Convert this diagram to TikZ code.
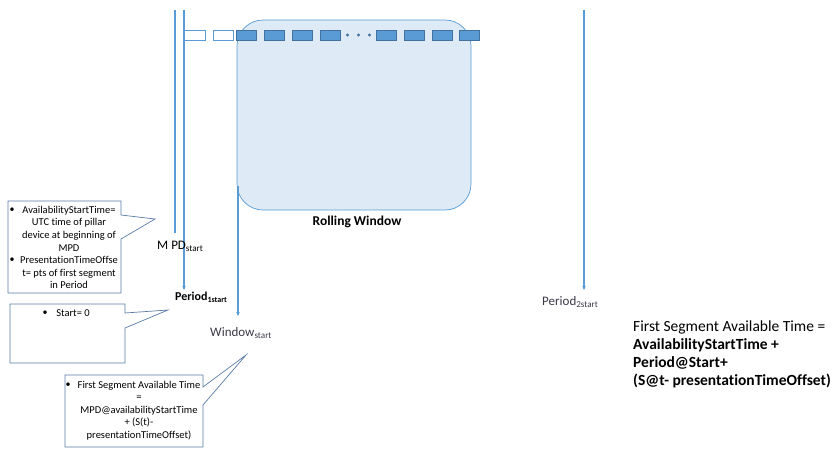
\documentclass[tikz,border=0pt]{standalone}
\usepackage{fontspec}
\setmainfont[Ligatures=CommonOff]{Carlito}
\usetikzlibrary{arrows.meta}
\definecolor{lineblue}{HTML}{5B9BD5}
\definecolor{segdark}{HTML}{41719C}
\definecolor{winfill}{HTML}{DEEAF6}
\definecolor{callborder}{HTML}{5A7CA6}
\definecolor{labelgray}{HTML}{3A3A4A}
\tikzset{
  timeline/.style={draw=lineblue, line width=1.3pt},
  timearrow/.style={timeline, -{Stealth[length=4pt,width=3.5pt]}},
  seghollow/.style={draw=lineblue, fill=white, line width=0.8pt},
  segfull/.style={draw=segdark, fill=lineblue, line width=0.8pt},
  callout/.style={draw=callborder, fill=white, line width=0.7pt, line join=miter},
  calltext/.style={font=\fontsize{10.5}{12.6}\selectfont, align=center, inner sep=0pt},
  bulletmark/.style={font=\fontsize{10}{12.5}\selectfont, inner sep=0pt},
  lbl/.style={inner sep=0pt, anchor=west}
}
\begin{document}
\begin{tikzpicture}[x=1pt,y=-1pt]
\useasboundingbox (0,0) rectangle (834,449);
% rolling window
\draw[draw=lineblue, fill=winfill, line width=0.7pt, rounded corners=26pt] (237,20) rectangle (471,210);
\node[font=\bfseries\fontsize{13.5}{15}\selectfont, inner sep=0pt] (rw) at (357,222) {Rolling Window};
% vertical timelines
\coordinate (mpdtop) at (175,10);
\coordinate (mpdbot) at (175,233);
\draw[timeline] (mpdtop) -- (mpdbot);
\coordinate (p1top) at (184,10);
\coordinate (p1bot) at (184,290);
\draw[timearrow] (p1top) -- (p1bot);
\coordinate (p2top) at (584,10);
\coordinate (p2bot) at (584,290);
\draw[timearrow] (p2top) -- (p2bot);
\coordinate (wtop) at (238,186);
\coordinate (wbot) at (238,316);
\draw[timearrow] (wtop) -- (wbot);
% segments
\node[seghollow, minimum width=21pt, minimum height=10pt, inner sep=0pt] (s1) at (194.5,35) {};
\node[seghollow, minimum width=20pt, minimum height=10pt, inner sep=0pt] (s2) at (223,35) {};
\foreach \x/\n in {246.5/a,274/b,302/c,330/d,386.5/e,414/f,442/g,469.5/h}{
  \node[segfull, minimum width=20pt, minimum height=10pt, inner sep=0pt] (seg\n) at (\x,35) {};
}
\foreach \x/\n in {347.5/1,358.5/2,369.5/3}{
  \fill[segdark] (\x,35) circle (1.6pt);
}
% callout 1
\draw[callout] (8,201) -- (121,201) -- (121,215) -- (155,219) -- (121,239) -- (121,293) -- (8,293) -- cycle;
\node[bulletmark] (b1) at (12,210) {•};
\node[calltext] (c1a) at (69,228.5) {AvailabilityStartTime=\\UTC time of pillar\\device at beginning of\\MPD};
\node[bulletmark] (b2) at (12,260) {•};
\node[calltext] (c1b) at (69,272.5) {PresentationTimeOffse\\t= pts of first segment\\in Period};
% callout 2
\draw[callout] (10,304) -- (125,304) -- (125,313) -- (168,310) -- (125,328) -- (125,363) -- (10,363) -- cycle;
\node[bulletmark] (b3) at (45,313) {•};
\node[calltext] (c2) at (73,313) {Start= 0};
% callout 3
\draw[callout] (65,375) -- (203,375) -- (203,387) -- (246,355) -- (203,405) -- (203,447) -- (65,447) -- cycle;
\node[bulletmark] (b4) at (68,385) {•};
\node[calltext] (c3) at (139,410.5) {First Segment Available Time\\=\\MPD@availabilityStartTime\\+ (S(t)-\\presentationTimeOffset)};
% labels
\node[lbl, font=\fontsize{13}{15}\selectfont] (mpd) at (157,246) {M PD\textsubscript{start}};
\node[lbl, font=\bfseries\fontsize{12}{14}\selectfont] (p1) at (175,297) {Period\textsubscript{1start}};
\node[lbl, font=\fontsize{13}{15}\selectfont, text=labelgray] (win) at (210,333) {Window\textsubscript{start}};
\node[lbl, font=\fontsize{13}{15}\selectfont, text=labelgray] (p2) at (542,302) {Period\textsubscript{2start}};
% formula
\node[lbl, align=left, font=\fontsize{15.5}{18}\selectfont] (formula) at (633,354) {First Segment Available Time =\\\textbf{AvailabilityStartTime +}\\\textbf{Period@Start+}\\\textbf{(S@t- presentationTimeOffset)}};
\end{tikzpicture}
\end{document}
